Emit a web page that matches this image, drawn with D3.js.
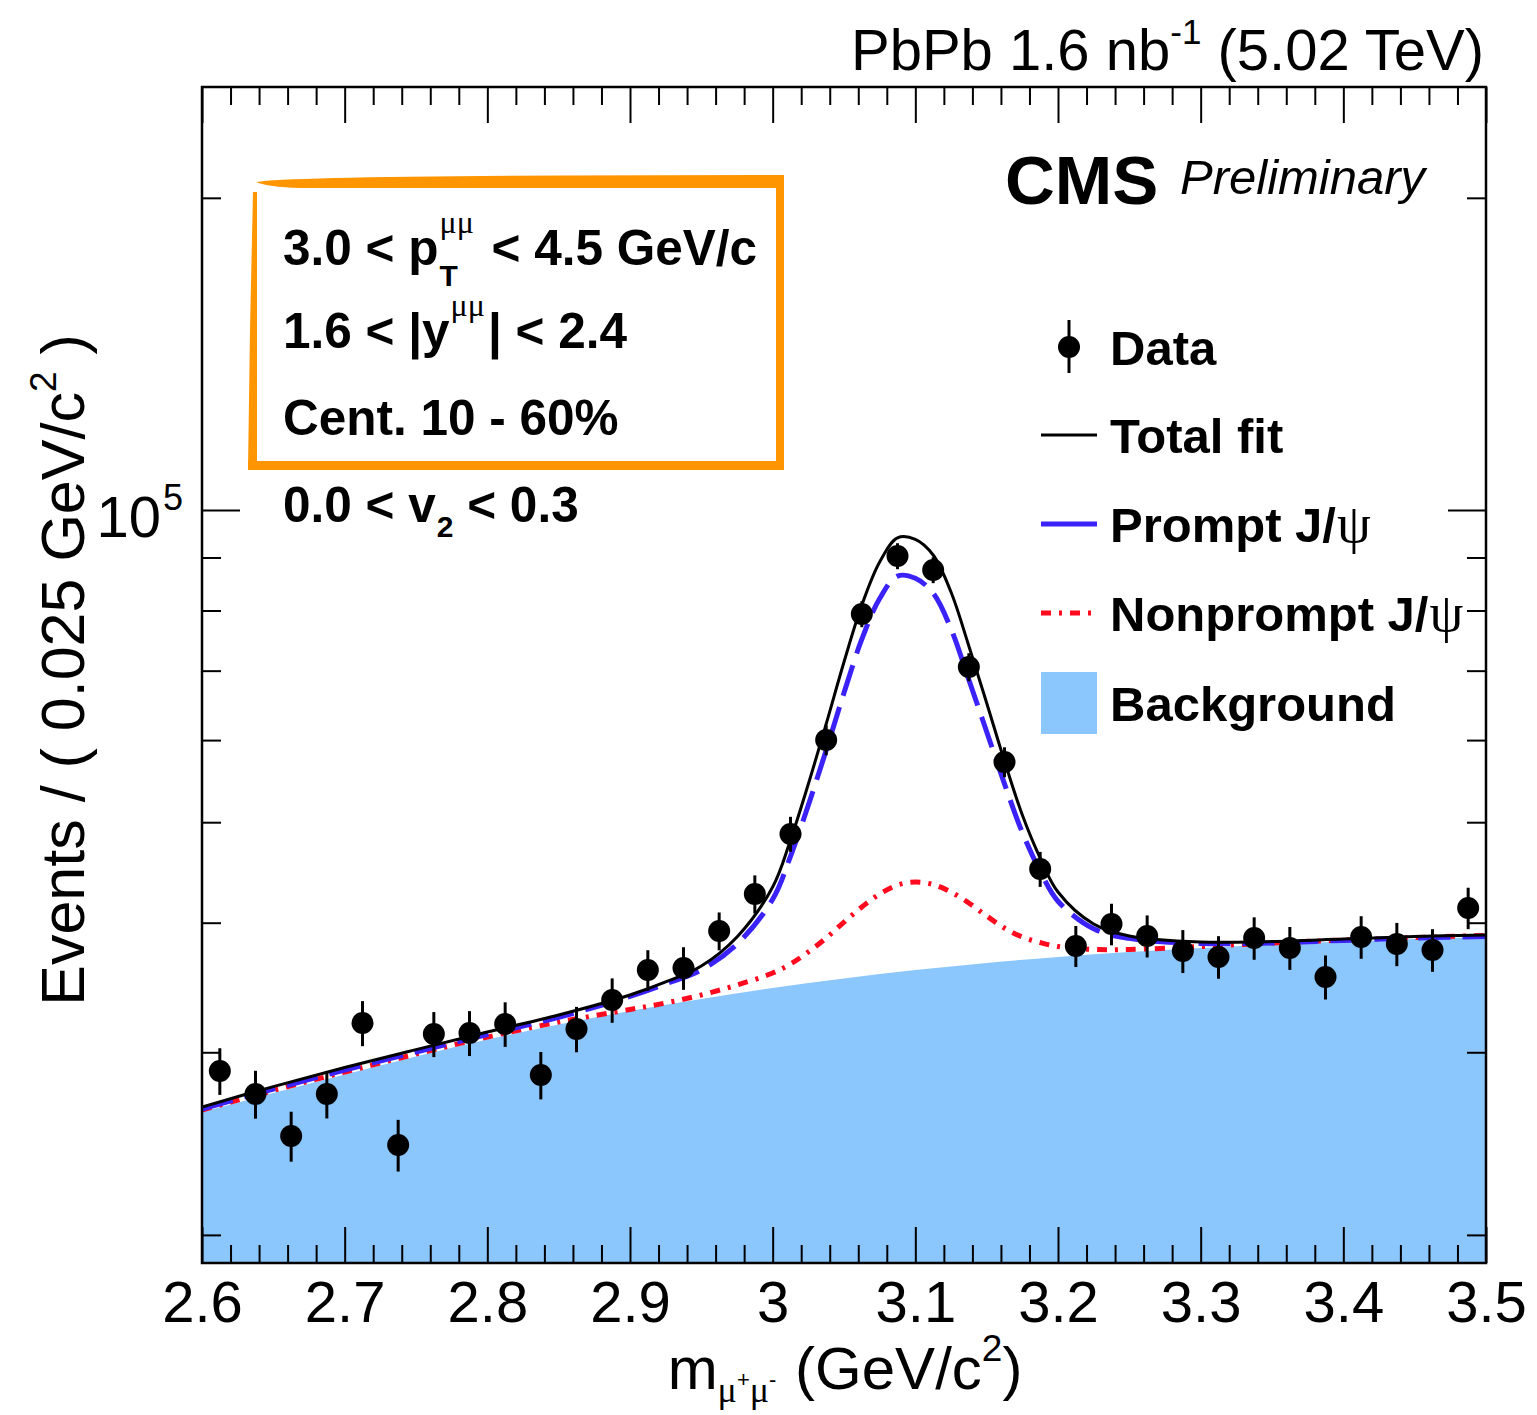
<!DOCTYPE html>
<html><head><meta charset="utf-8">
<script src="https://cdn.jsdelivr.net/npm/d3@7"></script>
<style>body{margin:0;background:#fff} svg{display:block} text{white-space:pre}</style>
</head><body>
<svg id="c" width="1537" height="1415"></svg>
<script>
// ---------------- data ----------------
const dataMass = [2.6125, 2.6375, 2.6625, 2.6875, 2.7125, 2.7375, 2.7625, 2.7875, 2.8125, 2.8375, 2.8625, 2.8875,
  2.9125, 2.9375, 2.9625, 2.9875, 3.0125, 3.0375, 3.0625, 3.0875, 3.1125, 3.1375, 3.1625, 3.1875,
  3.2125, 3.2375, 3.2625, 3.2875, 3.3125, 3.3375, 3.3625, 3.3875, 3.4125, 3.4375, 3.4625, 3.4875];
const dataEvents = [28780, 27340, 24910, 27340, 32010, 24420, 31240, 31310, 31940, 28520, 31590, 33690,
  36010, 36170, 39270, 42630, 48710, 60010, 79380, 90290, 87530, 70570, 57150, 45060,
  37980, 39880, 38840, 37560, 37070, 38660, 37820, 35460, 38750, 38150, 37650, 41330];
const dataErrors = [1490, 1450, 1380, 1440, 1600, 1400, 1560, 1560, 1580, 1500, 1590, 1660,
  1620, 1710, 1650, 1800, 1890, 2000, 2290, 2600, 2520, 2190, 1900, 1750,
  1730, 1840, 1810, 1790, 1750, 1820, 1800, 1730, 1830, 1830, 1780, 1900];

const fitMass = [2.6, 2.65, 2.7, 2.75, 2.8, 2.85, 2.9, 2.925, 2.95, 2.975, 3.0, 3.0125, 3.025, 3.0375, 3.05,
  3.0625, 3.075, 3.0875, 3.1, 3.1125, 3.125, 3.1375, 3.15, 3.1625, 3.175, 3.1875, 3.2, 3.225, 3.25,
  3.3, 3.35, 3.4, 3.45, 3.5];
const totalFit = [26570, 27800, 29000, 30180, 31380, 32590, 34070, 35070, 36330, 38750, 43300, 48060, 54420,
  62180, 71360, 80980, 89100, 94000, 93700, 90500, 83350, 73940, 65150, 57270, 50800, 46180, 42820,
  39880, 38840, 38320, 38370, 38580, 38790, 38920];
const promptFit = [26450, 27640, 28840, 30020, 31210, 32420, 33960, 34920, 36020, 38140, 42130, 46350, 51930,
  58660, 66640, 75060, 82160, 86360, 85930, 83130, 76820, 68600, 61130, 54440, 48870, 44840, 41950,
  39460, 38630, 38200, 38240, 38460, 38660, 38790];
const nonpromptFit = [26390, 27560, 28710, 29880, 31030, 32080, 32990, 33470, 34070, 34830, 35770, 36500, 37480,
  38660, 40060, 41420, 42630, 43490, 43780, 43540, 42820, 41790, 40600, 39530, 38750, 38280, 37940,
  37690, 37690, 37940, 38240, 38490, 38710, 38880];

const bgMass = [2.6, 2.65, 2.7, 2.75, 2.8, 2.85, 2.9, 2.95, 3.0, 3.05, 3.1, 3.15, 3.2, 3.25, 3.3, 3.35, 3.4, 3.45, 3.5];
const background = [26270, 27400, 28550, 29720, 30860, 31910, 32880, 33760, 34600, 35340, 36010, 36580, 37070,
  37480, 37820, 38110, 38370, 38580, 38750];

const xMajorTicks = [2.6, 2.7, 2.8, 2.9, 3.0, 3.1, 3.2, 3.3, 3.4, 3.5];
const xTickLabels = ["2.6", "2.7", "2.8", "2.9", "3", "3.1", "3.2", "3.3", "3.4", "3.5"];
const xMinorTicks = [2.62, 2.64, 2.66, 2.68, 2.72, 2.74, 2.76, 2.78, 2.82, 2.84, 2.86, 2.88, 2.92, 2.94, 2.96, 2.98,
  3.02, 3.04, 3.06, 3.08, 3.12, 3.14, 3.16, 3.18, 3.22, 3.24, 3.26, 3.28, 3.32, 3.34, 3.36, 3.38, 3.42, 3.44, 3.46, 3.48];
const yMajorTicks = [1e5];
const yMinorTicks = [2e4, 3e4, 4e4, 5e4, 6e4, 7e4, 8e4, 9e4, 2e5];
const legendLabels = ["Data", "Total fit", "Prompt J/", "Nonprompt J/", "Background"];

// ---------------- setup ----------------
const SANS = "'Liberation Sans', Arial, Helvetica, sans-serif";
const SERIF = "'Liberation Serif', 'DejaVu Serif', serif";
const svg = d3.select("#c");
const L = 202, R = 1486, T = 87, B = 1263;
const x = d3.scaleLinear().domain([2.6, 3.5]).range([L, R]);
const y = d3.scaleLog().domain([18790, 255800]).range([B, T]);

const COL_BG = "#8bc6fc", COL_BLUE = "#3a22f8", COL_RED = "#ff0a1e", COL_OR = "#ff9500";

svg.append("defs").append("clipPath").attr("id", "clip")
  .append("rect").attr("x", L).attr("y", T).attr("width", R - L).attr("height", B - T);
const plot = svg.append("g").attr("clip-path", "url(#clip)");

// background area
const bgPts = bgMass.map((m, i) => [m, background[i]]);
plot.append("path").datum(bgPts)
  .attr("d", d3.area().x(d => x(d[0])).y0(B).y1(d => y(d[1])).curve(d3.curveMonotoneX))
  .attr("fill", COL_BG);

const line = d3.line().x(d => x(d[0])).y(d => y(d[1])).curve(d3.curveCatmullRom.alpha(0.5));
const mk = arr => fitMass.map((m, i) => [m, arr[i]]);

plot.append("path").datum(mk(nonpromptFit)).attr("d", line)
  .attr("fill", "none").attr("stroke", COL_RED).attr("stroke-width", 5)
  .attr("stroke-dasharray", "10,8,3,8");
plot.append("path").datum(mk(promptFit)).attr("d", line)
  .attr("fill", "none").attr("stroke", COL_BLUE).attr("stroke-width", 5)
  .attr("stroke-dasharray", "32,12");
plot.append("path").datum(mk(totalFit)).attr("d", line)
  .attr("fill", "none").attr("stroke", "#000").attr("stroke-width", 3);

// data points
const pts = plot.append("g");
dataMass.forEach((m, i) => {
  const cx = x(m);
  pts.append("line").attr("x1", cx).attr("x2", cx)
    .attr("y1", y(dataEvents[i] + dataErrors[i])).attr("y2", y(dataEvents[i] - dataErrors[i]))
    .attr("stroke", "#000").attr("stroke-width", 3);
  pts.append("circle").attr("cx", cx).attr("cy", y(dataEvents[i])).attr("r", 11).attr("fill", "#000");
});

// ---------------- axes ----------------
function styleAxis(g) {
  g.select(".domain").remove();
  g.selectAll(".tick line").attr("stroke", "#000").attr("stroke-width", 2);
}
svg.append("g").attr("transform", `translate(0,${B})`)
  .call(d3.axisBottom(x).tickValues(xMinorTicks).tickSize(-18).tickFormat(""))
  .call(styleAxis);
const xb = svg.append("g").attr("transform", `translate(0,${B})`)
  .call(d3.axisBottom(x).tickValues(xMajorTicks).tickSize(-36).tickPadding(18)
    .tickFormat((d, i) => xTickLabels[i]))
  .call(styleAxis);
xb.selectAll("text").attr("font-family", SANS).attr("font-size", 58).attr("fill", "#000");
svg.append("g").attr("transform", `translate(0,${T})`)
  .call(d3.axisTop(x).tickValues(xMinorTicks).tickSize(-18).tickFormat("")).call(styleAxis);
svg.append("g").attr("transform", `translate(0,${T})`)
  .call(d3.axisTop(x).tickValues(xMajorTicks).tickSize(-36).tickFormat("")).call(styleAxis);
svg.append("g").attr("transform", `translate(${L},0)`)
  .call(d3.axisLeft(y).tickValues(yMinorTicks).tickSize(-19).tickFormat("")).call(styleAxis);
svg.append("g").attr("transform", `translate(${L},0)`)
  .call(d3.axisLeft(y).tickValues(yMajorTicks).tickSize(-38).tickFormat("")).call(styleAxis);
svg.append("g").attr("transform", `translate(${R},0)`)
  .call(d3.axisRight(y).tickValues(yMinorTicks).tickSize(-19).tickFormat("")).call(styleAxis);
svg.append("g").attr("transform", `translate(${R},0)`)
  .call(d3.axisRight(y).tickValues(yMajorTicks).tickSize(-38).tickFormat("")).call(styleAxis);

svg.append("rect").attr("x", L).attr("y", T).attr("width", R - L).attr("height", B - T)
  .attr("fill", "none").attr("stroke", "#000").attr("stroke-width", 2.5);

// ---------------- rich text helper ----------------
function rich(parent, px, py, parts, anchor, rotate) {
  const outer = parent.append("g");
  const grp = outer.append("g");
  let cx = 0, lastStart = 0;
  parts.forEach(p => {
    const sx = p.back ? lastStart : cx + (p.gap || 0);
    const el = grp.append("text").attr("x", sx).attr("y", p.dy || 0)
      .attr("font-size", p.fs).attr("font-weight", p.fw || "normal")
      .attr("font-family", p.ff || SANS).attr("font-style", p.fst || "normal")
      .attr("fill", "#000").text(p.t);
    const w = el.node().getComputedTextLength();
    lastStart = sx;
    cx = Math.max(cx, sx + w);
  });
  let off = 0;
  if (anchor === "end") off = -cx; else if (anchor === "middle") off = -cx / 2;
  grp.attr("transform", `translate(${off},0)`);
  outer.attr("transform", `translate(${px},${py})` + (rotate ? ` rotate(${rotate})` : ""));
  return outer;
}

// y tick label 10^5
rich(svg, 183, y(1e5) + 27, [
  { t: "10", fs: 58 },
  { t: "5", fs: 36, dy: -27, gap: 2 }
], "end");

// axis titles
rich(svg, 845, 1389, [
  { t: "m", fs: 60 },
  { t: "μ", fs: 36, dy: 13, ff: SERIF },
  { t: "+", fs: 22, dy: -2 },
  { t: "μ", fs: 36, dy: 13, ff: SERIF },
  { t: "-", fs: 22, dy: -2 },
  { t: " (GeV/c", fs: 60, gap: 2 },
  { t: "2", fs: 37, dy: -28 },
  { t: ")", fs: 60 }
], "middle");

rich(svg, 84, 670, [
  { t: "Events / ( 0.025 GeV/c", fs: 61 },
  { t: "2", fs: 37, dy: -28 },
  { t: " )", fs: 61 }
], "middle", -90);

// header
rich(svg, 1484, 70, [
  { t: "PbPb 1.6 nb", fs: 58 },
  { t: "-1", fs: 35, dy: -26 },
  { t: " (5.02 TeV)", fs: 58 }
], "end");

// CMS Preliminary
rich(svg, 1005, 204, [{ t: "CMS", fs: 69, fw: "bold" }], "start");
rich(svg, 1180, 194, [{ t: "Preliminary", fs: 49, fst: "italic" }], "start");

// ---------------- orange box ----------------
const ob = svg.append("g").attr("fill", COL_OR);
ob.append("path").attr("d", "M256,182 Q300,175 784,175 L784,188 L300,188 Q268,187 256,182 Z");
ob.append("rect").attr("x", 776).attr("y", 175).attr("width", 8).attr("height", 295);
ob.append("rect").attr("x", 248).attr("y", 461).attr("width", 536).attr("height", 9);
ob.append("path").attr("d", "M253,192 L257,192 L257,470 L248,470 L250,330 Z");

// box text
const BT = { fs: 49.5, fw: "bold" };
rich(svg, 283, 265, [
  Object.assign({ t: "3.0 < p" }, BT),
  { t: "μμ", fs: 32, dy: -32, ff: SERIF, gap: 1 },
  { t: "T", fs: 30, fw: "bold", dy: 21, back: true },
  Object.assign({ t: " < 4.5 GeV/c", gap: 4 }, BT)
], "start");
rich(svg, 283, 348, [
  Object.assign({ t: "1.6 < |y" }, BT),
  { t: "μμ", fs: 32, dy: -32, ff: SERIF, gap: 1 },
  Object.assign({ t: "| < 2.4", gap: 3 }, BT)
], "start");
rich(svg, 283, 435, [Object.assign({ t: "Cent. 10 - 60%" }, BT)], "start");
rich(svg, 283, 522, [
  Object.assign({ t: "0.0 < v" }, BT),
  { t: "2", fs: 30, fw: "bold", dy: 15, gap: 1 },
  Object.assign({ t: " < 0.3" }, BT)
], "start");

// ---------------- legend ----------------
const legY = [347, 435, 524, 613, 703];
const lg = svg.append("g");
// Data
lg.append("line").attr("x1", 1069).attr("x2", 1069).attr("y1", legY[0] - 27).attr("y2", legY[0] + 26)
  .attr("stroke", "#000").attr("stroke-width", 3);
lg.append("circle").attr("cx", 1069).attr("cy", legY[0]).attr("r", 11).attr("fill", "#000");
// Total fit
lg.append("line").attr("x1", 1041).attr("x2", 1097).attr("y1", legY[1]).attr("y2", legY[1])
  .attr("stroke", "#000").attr("stroke-width", 3);
// Prompt
lg.append("line").attr("x1", 1041).attr("x2", 1097).attr("y1", legY[2]).attr("y2", legY[2])
  .attr("stroke", COL_BLUE).attr("stroke-width", 5);
// Nonprompt
lg.append("line").attr("x1", 1041).attr("x2", 1097).attr("y1", legY[3]).attr("y2", legY[3])
  .attr("stroke", COL_RED).attr("stroke-width", 5).attr("stroke-dasharray", "10,8,3,8");
// Background
lg.append("rect").attr("x", 1041).attr("y", legY[4] - 31).attr("width", 56).attr("height", 62).attr("fill", COL_BG);

legendLabels.forEach((lab, i) => {
  const parts = [{ t: lab, fs: 49, fw: "bold" }];
  if (i === 2 || i === 3) parts.push({ t: "ψ", fs: 54, ff: SERIF, gap: 1 });
  rich(lg, 1110, legY[i] + 18, parts, "start");
});
</script>
</body></html>
